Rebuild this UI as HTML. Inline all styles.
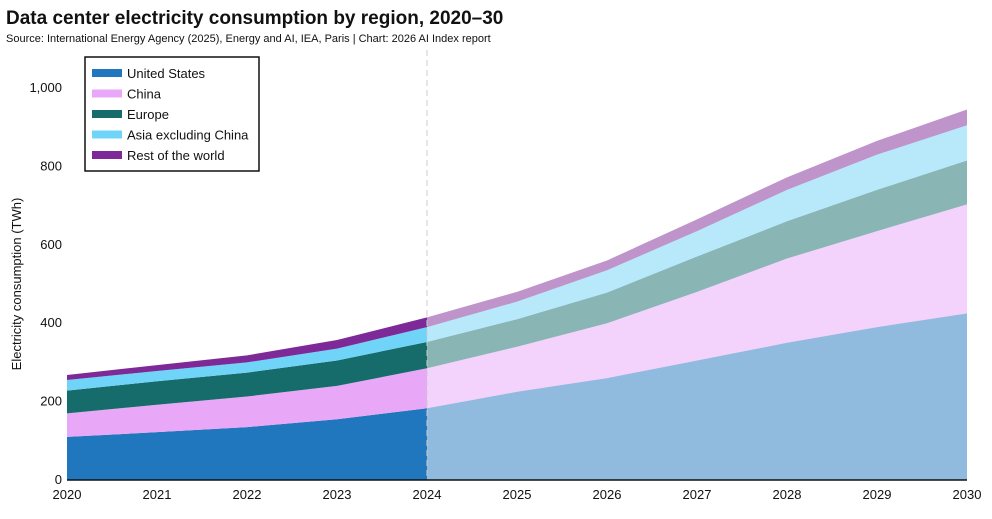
<!DOCTYPE html>
<html><head><meta charset="utf-8"><style>
body{margin:0;background:#fff;font-family:"Liberation Sans",sans-serif;}
svg text{font-family:"Liberation Sans",sans-serif;}
</style></head><body>
<svg id="chart" width="992" height="514">
<text x="6" y="24" font-size="19" font-weight="bold" fill="#111">Data center electricity consumption by region, 2020–30</text>
<text x="6" y="42" font-size="11" fill="#111">Source: International Energy Agency (2025), Energy and AI, IEA, Paris | Chart: 2026 AI Index report</text>
<text transform="translate(21,284) rotate(-90)" text-anchor="middle" font-size="13" fill="#111">Electricity consumption (TWh)</text>
<g id="grid"></g><g id="areas"></g><g id="axes"></g><g id="legend"></g>
</svg>
<script>
const years=[2020,2021,2022,2023,2024,2025,2026,2027,2028,2029,2030];
const usValues=[110,122,135,155,183,225,260,305,350,390,425];
const chinaValues=[60,70,78,85,102,115,140,175,215,245,278];
const europeValues=[58,60,61,65,67,70,78,90,95,105,112];
const asiaValues=[27,26,26,30,38,45,57,65,80,90,90];
const rowValues=[13,15,18,22,25,25,25,30,32,35,40];
const yTicks=[0,200,400,600,800,1000];
const yTickLabels=["0","200","400","600","800","1,000"];
const seriesNames=["United States","China","Europe","Asia excluding China","Rest of the world"];
const seriesColors=["#2177bd","#e8a8f7","#166b6b","#6fd4f7","#7d2a98"];
const seriesKeys=["us","china","europe","asia","row"];
const projectionStart=2024;

const NS="http://www.w3.org/2000/svg";
const x0=67,x1=967,yb=480,yt=88;
const xs=v=>x0+(v-2020)/(2030-2020)*(x1-x0);
const ys=v=>yb-v/1000*(yb-yt);
function mk(tag,attrs,parent){const e=document.createElementNS(NS,tag);for(const k in attrs)e.setAttribute(k,attrs[k]);parent.appendChild(e);return e;}
const grid=document.getElementById('grid'),areas=document.getElementById('areas'),axes=document.getElementById('axes'),legend=document.getElementById('legend');
yTicks.forEach((t,i)=>{
  const tx=mk('text',{x:x0-5,y:ys(t)+4,'text-anchor':'end','font-size':13,fill:'#111'},axes);
  tx.textContent=yTickLabels[i];
  
  
});
years.forEach(y=>{
  const tx=mk('text',{x:xs(y),y:499,'text-anchor':'middle','font-size':13,fill:'#111'},axes);
  tx.textContent=y;
  
  
});
const all=[usValues,chinaValues,europeValues,asiaValues,rowValues];
let base=years.map(()=>0);
all.forEach((vals,si)=>{
  const top=base.map((b,i)=>b+vals[i]);
  const seg=(from,to,op)=>{
    const idx=years.map((y,i)=>i).filter(i=>years[i]>=from&&years[i]<=to);
    let d='M'+idx.map(i=>xs(years[i])+','+ys(top[i])).join('L');
    d+='L'+idx.slice().reverse().map(i=>xs(years[i])+','+ys(base[i])).join('L')+'Z';
    const p=mk('path',{d:d,fill:seriesColors[si],'fill-opacity':op},areas);
    
    
  };
  seg(2020,projectionStart,1);
  seg(projectionStart,2030,0.5);
  base=top;
});
const dl=mk('line',{x1:xs(projectionStart),x2:xs(projectionStart),y1:50,y2:yb,stroke:'#ccc','stroke-dasharray':'6,4','stroke-width':1},axes);


const ax=mk('line',{x1:x0,x2:x1,y1:yb,y2:yb,stroke:'#111','stroke-width':1.5},axes);


const lb=mk('rect',{x:85,y:57,width:174,height:114,fill:'#fff',stroke:'#111','stroke-width':1.5},legend);


seriesNames.forEach((n,i)=>{
  const g=mk('g',{},legend);
  
  
  mk('rect',{x:92,y:69+i*20.5,width:30,height:8,fill:seriesColors[i]},g);
  const t=mk('text',{x:127,y:78+i*20.5,'font-size':13,fill:'#111'},g);
  t.textContent=n;
});
</script>
</body></html>
